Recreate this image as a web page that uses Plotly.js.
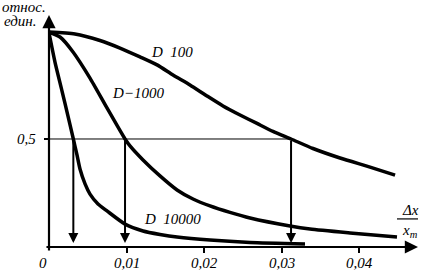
<!DOCTYPE html>
<html>
<head>
<meta charset="utf-8">
<script src="https://cdn.plot.ly/plotly-3.0.1.min.js"></script>
<style>
html,body{margin:0;padding:0;background:#fff;}
#chart svg text{font-family:"Times New Roman","Liberation Serif",serif !important;font-style:italic !important;}
</style>
</head>
<body>
<div id="chart" style="width:425px;height:272px;"></div>
<script>
// Data
const xD100 = [0, 0.00335, 0.00658, 0.00916, 0.01174, 0.01394, 0.01600, 0.01819, 0.02039, 0.02245, 0.02465, 0.02684, 0.02890, 0.03123, 0.03406, 0.03755, 0.04142, 0.04465];
const yD100 = [0.995, 0.986, 0.956, 0.921, 0.880, 0.843, 0.796, 0.750, 0.699, 0.653, 0.611, 0.572, 0.535, 0.500, 0.456, 0.412, 0.370, 0.333];

const xD1000 = [0, 0.00142, 0.00310, 0.00529, 0.00748, 0.00981, 0.01045, 0.01213, 0.01432, 0.01652, 0.01858, 0.02077, 0.02335, 0.02594, 0.03110, 0.03368, 0.03884, 0.04490];
const yD1000 = [0.995, 0.972, 0.903, 0.782, 0.644, 0.500, 0.468, 0.403, 0.329, 0.264, 0.222, 0.190, 0.160, 0.134, 0.097, 0.083, 0.065, 0.046];

const xD10000 = [0, 0.00077, 0.00168, 0.00245, 0.00314, 0.00361, 0.00400, 0.00465, 0.00529, 0.00632, 0.00748, 0.00981, 0.01213, 0.01432, 0.01652, 0.02077, 0.02594, 0.03303];
const yD10000 = [0.991, 0.856, 0.722, 0.606, 0.500, 0.426, 0.361, 0.292, 0.245, 0.199, 0.167, 0.106, 0.074, 0.058, 0.046, 0.032, 0.021, 0.014];

const curveLabels = ["D  100", "D\u22121000", "D  10000"];
const halfLevel = 0.5;
const halfWidths = [0.00314, 0.00981, 0.03123];   // x where each curve crosses 0.5
const xTickVals = [0.01, 0.02, 0.03, 0.04];
const xTickText = ["0,01", "0,02", "0,03", "0,04"];
const yTickVals = [0.5];
const yTickText = ["0,5"];

const FONT = {family: "Times New Roman", size: 15, color: "#000", style: "italic"};
const lineStyle = {color: "#000", width: 3.5, shape: "spline", smoothing: 0.6};

const traces = [
  {x: xD100, y: yD100, mode: "lines", line: lineStyle, hoverinfo: "skip"},
  {x: xD1000, y: yD1000, mode: "lines", line: lineStyle, hoverinfo: "skip"},
  {x: xD10000, y: yD10000, mode: "lines", line: lineStyle, hoverinfo: "skip"}
];

const XMAX = 0.04761, YMAX = 1.074;

const annotations = [];
// axes with arrows
annotations.push({x: XMAX, y: 0, ax: -0.00052, ay: 0, xref: "x", yref: "y", axref: "x", ayref: "y",
  text: "", showarrow: true, arrowhead: 2, arrowsize: 1.2, arrowwidth: 2.2, arrowcolor: "#000"});
annotations.push({x: 0, y: YMAX, ax: 0, ay: -0.023, xref: "x", yref: "y", axref: "x", ayref: "y",
  text: "", showarrow: true, arrowhead: 2, arrowsize: 1.2, arrowwidth: 2.2, arrowcolor: "#000"});
// vertical arrows from half level crossings
halfWidths.forEach(function (hx) {
  annotations.push({x: hx, y: 0.018, ax: hx, ay: halfLevel, xref: "x", yref: "y", axref: "x", ayref: "y",
    text: "", showarrow: true, arrowhead: 2, arrowsize: 1, arrowwidth: 2, arrowcolor: "#000"});
});
// x tick labels
xTickVals.forEach(function (v, i) {
  annotations.push({x: v, y: 0, xref: "x", yref: "paper", yanchor: "middle", yshift: -16,
    text: xTickText[i], showarrow: false, font: FONT});
});
// y tick label
yTickVals.forEach(function (v, i) {
  annotations.push({x: 0, y: v, xref: "paper", yref: "y", xanchor: "right", xshift: -11,
    text: yTickText[i], showarrow: false, font: FONT});
});
// curve labels
const labelPos = [[0.0159, 0.903], [0.01148, 0.713], [0.0159, 0.130]];
curveLabels.forEach(function (t, i) {
  annotations.push({x: labelPos[i][0], y: labelPos[i][1], xref: "x", yref: "y", text: t, showarrow: false, font: FONT});
});
// origin label
annotations.push({x: 0, y: 0, xref: "paper", yref: "paper", yanchor: "middle", xshift: -12, yshift: -16,
  text: "0", showarrow: false, font: FONT});
// axis label fraction
annotations.push({x: 0.0467, y: 0.171, xref: "x", yref: "y", text: "\u0394x", showarrow: false, font: FONT});
annotations.push({x: 0.0466, y: 0.074, xref: "x", yref: "y", text: "x<sub>m</sub>", showarrow: false, font: FONT});
// y-axis unit label
annotations.push({x: 0, y: 1, xref: "paper", yref: "paper", xanchor: "left", yanchor: "middle",
  xshift: -49, yshift: 8, text: "отнoс.", showarrow: false, font: FONT});
annotations.push({x: 0, y: 1, xref: "paper", yref: "paper", xanchor: "left", yanchor: "middle",
  xshift: -47, yshift: -6, text: "един.", showarrow: false, font: FONT});

const shapes = [
  // horizontal 0.5 line
  {type: "line", xref: "x", yref: "y", x0: -0.00052, x1: halfWidths[2], y0: halfLevel, y1: halfLevel,
   line: {color: "#000", width: 1}},
  // fraction bar
  {type: "line", xref: "x", yref: "y", x0: 0.04490, x1: 0.04787, y0: 0.130, y1: 0.130,
   line: {color: "#000", width: 1.2}}
];

const layout = {
  width: 425, height: 272,
  margin: {l: 49, r: 7, t: 15, b: 25, pad: 0},
  paper_bgcolor: "#fff", plot_bgcolor: "#fff",
  showlegend: false,
  xaxis: {range: [0, XMAX], showgrid: false, zeroline: false, showline: false,
    tickvals: xTickVals, ticks: "outside", ticklen: 5, tickwidth: 2, tickcolor: "#000",
    showticklabels: false},
  yaxis: {range: [0, YMAX], showgrid: false, zeroline: false, showline: false,
    tickvals: yTickVals, ticks: "outside", ticklen: 4, tickwidth: 2, tickcolor: "#000",
    showticklabels: false},
  annotations: annotations,
  shapes: shapes
};

Plotly.newPlot("chart", traces, layout, {staticPlot: true, displayModeBar: false});
</script>
</body>
</html>
